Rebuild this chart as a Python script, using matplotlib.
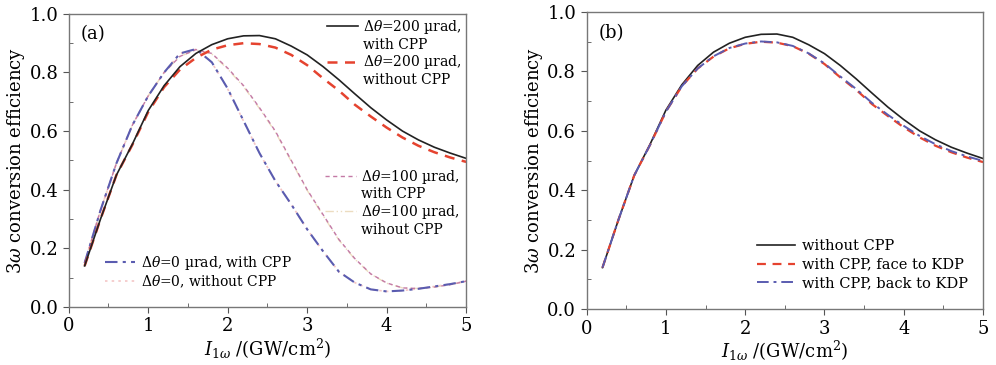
import matplotlib
matplotlib.use("Agg")
import matplotlib.pyplot as plt
from matplotlib.lines import Line2D
from matplotlib.ticker import MultipleLocator

plt.rcParams['font.family'] = ['DejaVu Serif']
plt.rcParams['mathtext.fontset'] = 'dejavuserif'

# intensity grid (GW/cm^2)
x = [0.2, 0.4, 0.6, 0.8, 1.0, 1.2, 1.4, 1.6, 1.8, 2.0, 2.2, 2.4, 2.6,
     2.8, 3.0, 3.2, 3.4, 3.6, 3.8, 4.0, 4.2, 4.4, 4.6, 4.8, 5.0]

# panel (a)
a_200_cpp = [0.14, 0.30, 0.45, 0.555, 0.67, 0.755, 0.82, 0.865, 0.895, 0.915,
             0.925, 0.926, 0.915, 0.89, 0.86, 0.82, 0.775, 0.727, 0.68, 0.638,
             0.60, 0.57, 0.545, 0.525, 0.507]
a_200_nocpp = [0.14, 0.30, 0.45, 0.553, 0.665, 0.75, 0.81, 0.85, 0.878, 0.893,
               0.90, 0.897, 0.885, 0.86, 0.825, 0.78, 0.738, 0.69, 0.65, 0.612,
               0.578, 0.55, 0.528, 0.51, 0.495]
a_100_cpp = [0.15, 0.33, 0.49, 0.62, 0.72, 0.80, 0.855, 0.878, 0.865, 0.815,
             0.755, 0.68, 0.60, 0.50, 0.40, 0.315, 0.23, 0.165, 0.113, 0.082,
             0.065, 0.063, 0.068, 0.076, 0.088]
a_100_nocpp = [0.15, 0.33, 0.49, 0.62, 0.72, 0.80, 0.855, 0.877, 0.863, 0.812,
               0.752, 0.677, 0.597, 0.497, 0.398, 0.312, 0.228, 0.163, 0.112, 0.081,
               0.065, 0.063, 0.068, 0.076, 0.088]
a_0_cpp = [0.15, 0.33, 0.49, 0.62, 0.72, 0.80, 0.865, 0.88, 0.835, 0.745,
           0.635, 0.525, 0.43, 0.35, 0.265, 0.19, 0.12, 0.083, 0.06, 0.053,
           0.056, 0.062, 0.07, 0.078, 0.088]
a_0_nocpp = [0.15, 0.33, 0.49, 0.62, 0.72, 0.80, 0.865, 0.879, 0.834, 0.744,
             0.634, 0.524, 0.43, 0.35, 0.265, 0.19, 0.12, 0.083, 0.06, 0.053,
             0.056, 0.062, 0.07, 0.078, 0.088]

# panel (b)
b_nocpp = [0.14, 0.30, 0.45, 0.555, 0.67, 0.755, 0.82, 0.865, 0.895, 0.915,
           0.925, 0.926, 0.915, 0.89, 0.86, 0.82, 0.775, 0.727, 0.68, 0.638,
           0.60, 0.57, 0.545, 0.525, 0.507]
b_face = [0.14, 0.30, 0.45, 0.553, 0.665, 0.75, 0.81, 0.85, 0.878, 0.893,
          0.90, 0.897, 0.885, 0.86, 0.825, 0.78, 0.738, 0.69, 0.65, 0.612,
          0.578, 0.55, 0.528, 0.51, 0.495]
b_back = [0.14, 0.30, 0.45, 0.553, 0.665, 0.75, 0.81, 0.851, 0.879, 0.894,
          0.901, 0.898, 0.886, 0.861, 0.827, 0.783, 0.741, 0.694, 0.654, 0.617,
          0.583, 0.555, 0.532, 0.514, 0.499]

RED = '#e5432f'
BLUE = '#5a5cb0'
PINK = '#c47aa6'
LPINK = '#f4c6c6'
TAN = '#ecdcc0'

fig = plt.figure(figsize=(9.96, 3.65), dpi=100)
ax1 = fig.add_axes([0.069, 0.159, 0.399, 0.803])
ax2 = fig.add_axes([0.589, 0.153, 0.398, 0.814])


def style_axes(ax, tag):
    ax.set_xlim(0, 5)
    ax.set_ylim(0, 1.0)
    ax.xaxis.set_major_locator(MultipleLocator(1))
    ax.xaxis.set_minor_locator(MultipleLocator(0.5))
    ax.yaxis.set_major_locator(MultipleLocator(0.2))
    ax.yaxis.set_minor_locator(MultipleLocator(0.1))
    ax.yaxis.set_major_formatter(plt.FuncFormatter(lambda v, p: f"{v:.1f}"))
    ax.tick_params(which='major', direction='out', length=4, labelsize=13,
                   top=False, right=False, color='#555555')
    ax.tick_params(which='minor', direction='in', length=3,
                   top=False, right=False, color='#555555')
    for s in ax.spines.values():
        s.set_color('#777777')
        s.set_linewidth(1.0)
    ax.set_xlabel(r"$I_{1\omega}$ /(GW/cm$^{2}$)", fontsize=13, labelpad=1)
    ax.set_ylabel(r"3$\omega$ conversion efficiency", fontsize=13, labelpad=2)
    ax.text(0.03, 0.93, tag, transform=ax.transAxes, fontsize=13, va='center')


style_axes(ax1, '(a)')
style_axes(ax2, '(b)')

# ---- panel (a); faint curves first so they sit underneath
l6, = ax1.plot(x, a_0_nocpp, color=LPINK, lw=1.2, ls=(0, (1.5, 2.5)))
l4, = ax1.plot(x, a_100_nocpp, color=TAN, lw=1.0, ls=(0, (6, 2, 1, 2, 1, 2)))
l3, = ax1.plot(x, a_100_cpp, color=PINK, lw=1.0, ls=(0, (3, 2.5)))
l5, = ax1.plot(x, a_0_cpp, color=BLUE, lw=1.5, ls=(0, (6, 2.5, 1.5, 2.5)))
l2, = ax1.plot(x, a_200_nocpp, color=RED, lw=1.8, ls=(0, (4, 3)))
l1, = ax1.plot(x, a_200_cpp, color='#222222', lw=1.2, ls='-')

blank = Line2D([], [], color='none')
th = r"$\Delta\theta$"
leg_kw = dict(frameon=False, fontsize=10, handlelength=2.2, handletextpad=0.4,
              labelspacing=0.12, borderpad=0.1, borderaxespad=0.2)
lg1 = ax1.legend([l1, blank, l2, blank],
                 [th + "=200 µrad,", "with CPP", th + "=200 µrad,", "without CPP"],
                 loc='upper right', bbox_to_anchor=(1.0, 1.0), **leg_kw)
ax1.add_artist(lg1)
lg2 = ax1.legend([l3, blank, l4, blank],
                 [th + "=100 µrad,", "with CPP", th + "=100 µrad,", "wihout CPP"],
                 loc='upper right', bbox_to_anchor=(0.995, 0.49), **leg_kw)
ax1.add_artist(lg2)
ax1.legend([l5, l6], [th + "=0 µrad, with CPP", th + "=0, without CPP"],
           loc='lower left', bbox_to_anchor=(0.08, 0.045), **leg_kw)

# ---- panel (b)
m1, = ax2.plot(x, b_nocpp, color='#222222', lw=1.2, ls='-')
m2, = ax2.plot(x, b_face, color=RED, lw=1.6, ls=(0, (4, 3)))
m3, = ax2.plot(x, b_back, color=BLUE, lw=1.4, ls=(0, (6, 2.5, 1.5, 2.5)))
ax2.legend([m1, m2, m3], ["without CPP", "with CPP, face to KDP", "with CPP, back to KDP"],
           loc='lower right', bbox_to_anchor=(0.985, 0.035), frameon=False, fontsize=10.5,
           handlelength=2.6, handletextpad=0.5, labelspacing=0.3, borderpad=0.1)

fig.savefig("out.png", dpi=100)
